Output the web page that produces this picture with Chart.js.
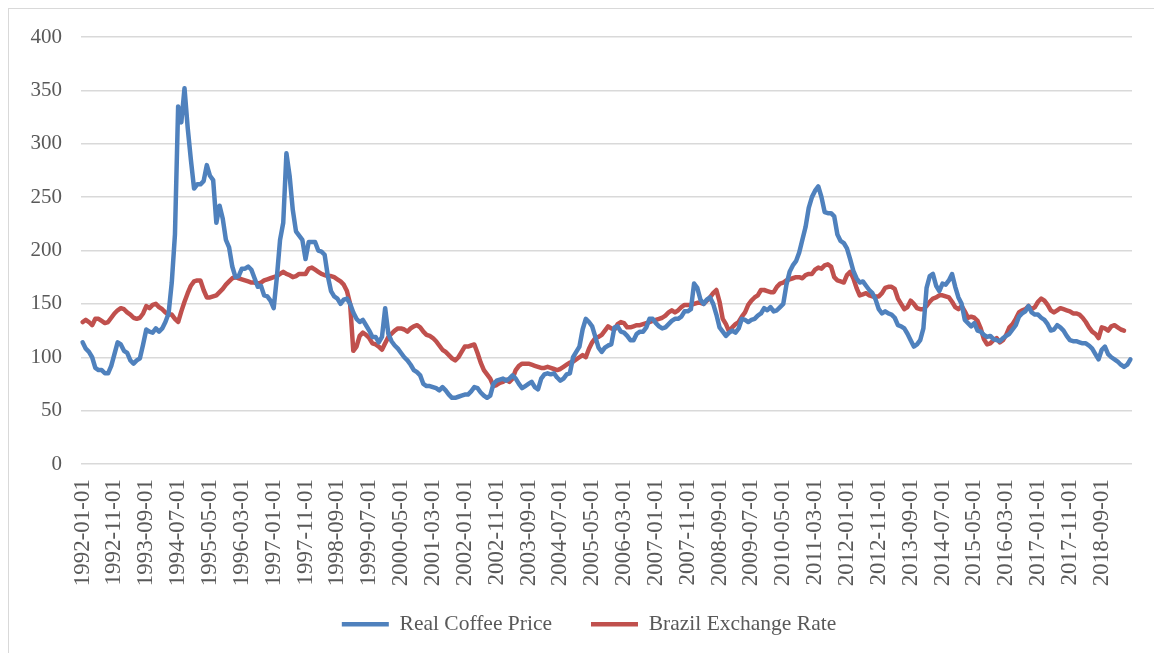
<!DOCTYPE html>
<html>
<head>
<meta charset="utf-8">
<script src="https://cdn.jsdelivr.net/npm/chart.js@4.4.1/dist/chart.umd.min.js"></script>
<style>
  html, body { margin: 0; padding: 0; background: #ffffff; }
  #wrap { position: relative; width: 1154px; height: 653px; }
  canvas { display: block; }
</style>
</head>
<body>
<div id="wrap"><canvas id="c" width="1154" height="653"></canvas></div>
<script>
// ---- Data (monthly, 1992-01 .. 2019-06) ----
const startYear = 1992;
const monthCount = 330;
const months = [];
for (let i = 0; i < monthCount; i++) {
  const y = startYear + Math.floor(i / 12);
  const m = (i % 12) + 1;
  months.push(y + '-' + String(m).padStart(2, '0') + '-01');
}
const tickEvery = 10;

const seriesNames = ['Real Coffee Price', 'Brazil Exchange Rate'];

const realCoffeePrice = [
  114,108,105,100,90,88,88,85,85,92,
  103,114,112,106,104,97,94,97,99,112,
  126,124,123,127,124,127,133,141,170,215,
  335,320,352,315,285,258,262,262,265,280,
  270,266,226,242,230,210,203,185,175,176,
  183,183,185,182,174,166,167,158,157,153,
  146,175,210,226,291,270,238,218,214,210,
  192,208,208,208,200,199,196,176,162,157,
  155,150,154,155,150,142,136,133,135,130,
  125,119,119,114,119,146,122,115,111,108,
  104,100,97,93,88,86,83,75,73,73,
  72,71,69,72,69,65,62,62,63,64,
  65,65,68,72,71,67,64,62,64,75,
  78,79,80,78,80,83,80,75,71,73,
  75,77,72,70,80,84,85,84,85,
  81,78,80,84,85,100,105,110,126,136,
  133,129,119,109,105,109,111,112,128,129,
  124,123,120,116,116,122,124,124,128,136,
  136,132,129,127,128,131,134,136,136,138,
  143,143,145,169,165,154,150,154,156,150,
  140,128,124,120,123,125,123,127,136,135,
  133,135,136,139,141,146,144,147,143,144,
  147,150,168,180,186,190,198,210,222,240,
  250,256,260,250,236,235,235,232,215,209,
  207,202,192,181,174,170,171,167,163,160,
  154,145,141,143,141,140,137,130,129,127,
  122,116,110,112,116,127,165,176,178,167,
  162,169,168,172,178,166,156,150,135,132,
  129,132,125,124,121,119,120,117,116,115,
  118,120,122,126,130,138,141,143,148,142,
  140,140,137,135,131,125,126,130,128,125,
  120,116,115,115,114,113,113,111,108,103,
  98,107,110,103,100,98,96,93,91,93,98
];

const brazilExchangeRate = [
  133,135,133,130,136,136,134,132,133,137,
  141,144,146,145,142,140,137,136,137,141,
  148,146,149,150,147,145,142,140,140,136,
  133,143,152,160,167,171,172,172,163,156,
  156,157,158,161,164,168,171,174,175,174,
  173,172,171,170,170,169,170,172,173,174,
  175,176,178,180,178,177,175,176,178,178,
  178,183,184,182,180,178,177,176,176,175,
  173,171,168,162,150,106,110,120,123,121,
  118,113,112,110,107,113,119,122,125,127,
  127,126,124,127,129,130,128,124,121,120,
  118,115,111,107,105,102,99,97,100,105,
  110,110,111,112,104,95,88,84,80,73,
  74,76,77,79,77,80,88,92,94,94,
  94,93,92,91,90,90,91,90,89,
  88,89,91,93,95,96,98,100,102,100,
  108,114,118,119,121,125,129,127,126,131,
  133,132,128,128,129,130,130,131,132,133,
  134,135,136,137,139,142,144,142,144,147,
  149,149,149,150,151,151,150,153,156,160,
  163,152,136,131,124,128,131,133,138,142,
  149,153,156,158,163,163,162,161,161,166,
  169,170,172,173,174,175,175,174,177,178,
  178,182,184,183,186,187,185,175,172,171,
  170,177,180,174,165,158,159,160,158,157,
  157,157,160,165,166,166,164,155,150,145,
  147,153,150,146,145,145,148,152,155,156,
  158,158,157,156,152,147,145,148,143,137,
  138,137,134,127,117,112,113,116,118,114,
  116,121,128,131,136,142,144,145,148,145,
  147,152,155,153,149,144,142,144,146,145,
  144,143,141,141,140,137,133,128,124,122,
  118,128,127,125,129,130,128,126,125,null,null
];

const yMin = 0, yMax = 400, yStep = 50;

// ---- Styling ----
const FONT = '"Liberation Serif", "Times New Roman", serif';
const TEXT_COLOR = '#595959';
const GRID_COLOR = '#D9D9D9';

const frame = {
  id: 'frame',
  beforeDraw(chart) {
    const ctx = chart.ctx;
    ctx.save();
    ctx.fillStyle = '#ffffff';
    ctx.fillRect(0, 0, chart.width, chart.height);
    ctx.strokeStyle = GRID_COLOR;
    ctx.lineWidth = 1;
    ctx.strokeRect(8.5, 8.5, chart.width + 10, chart.height + 10);
    ctx.restore();
  }
};

new Chart(document.getElementById('c'), {
  type: 'line',
  data: {
    labels: months,
    datasets: [
      {
        label: seriesNames[0],
        data: realCoffeePrice,
        borderColor: '#4F81BD',
        backgroundColor: '#4F81BD',
        borderWidth: 4.5,
        borderCapStyle: 'round',
        borderJoinStyle: 'round',
        pointRadius: 0,
        tension: 0,
        fill: false
      },
      {
        label: seriesNames[1],
        data: brazilExchangeRate,
        borderColor: '#C0504D',
        backgroundColor: '#C0504D',
        borderWidth: 4.5,
        borderCapStyle: 'round',
        borderJoinStyle: 'round',
        pointRadius: 0,
        tension: 0,
        fill: false,
        spanGaps: false
      }
    ]
  },
  options: {
    responsive: false,
    animation: false,
    devicePixelRatio: 1,
    layout: { padding: { left: 24, right: 0, top: 37, bottom: 8 } },
    plugins: {
      legend: {
        position: 'bottom',
        labels: {
          usePointStyle: true,
          pointStyle: 'line',
          pointStyleWidth: 47,
          padding: 39,
          color: TEXT_COLOR,
          font: { family: FONT, size: 21.5 }
        }
      },
      tooltip: { enabled: false }
    },
    scales: {
      x: {
        type: 'category',
        offset: true,
        grid: { display: false, drawTicks: false },
        border: { display: false },
        ticks: {
          autoSkip: false,
          minRotation: 90,
          maxRotation: 90,
          padding: 15,
          color: TEXT_COLOR,
          font: { family: FONT, size: 23 },
          callback: function (val, idx) {
            return idx % tickEvery === 0 ? months[idx] : null;
          }
        },
        afterFit(scale) {
          scale.height = 110.5;
          scale.paddingLeft = 0;
          scale.paddingRight = 0;
          // let the rotated labels run past the scale box instead of being cut
          scale._computeLabelArea = function () { return undefined; };
        }
      },
      y: {
        min: yMin,
        max: yMax,
        grid: { color: GRID_COLOR, lineWidth: 1.5, drawTicks: false },
        border: { display: false },
        ticks: {
          stepSize: yStep,
          padding: 19,
          color: TEXT_COLOR,
          font: { family: FONT, size: 21 }
        },
        afterFit(scale) { scale.width = 57; }
      },
      yRight: {
        position: 'right',
        display: true,
        min: yMin,
        max: yMax,
        grid: { display: false, drawTicks: false },
        border: { display: false },
        ticks: { display: false },
        afterFit(scale) { scale.width = 22; }
      }
    }
  },
  plugins: [frame]
});
</script>
</body>
</html>
